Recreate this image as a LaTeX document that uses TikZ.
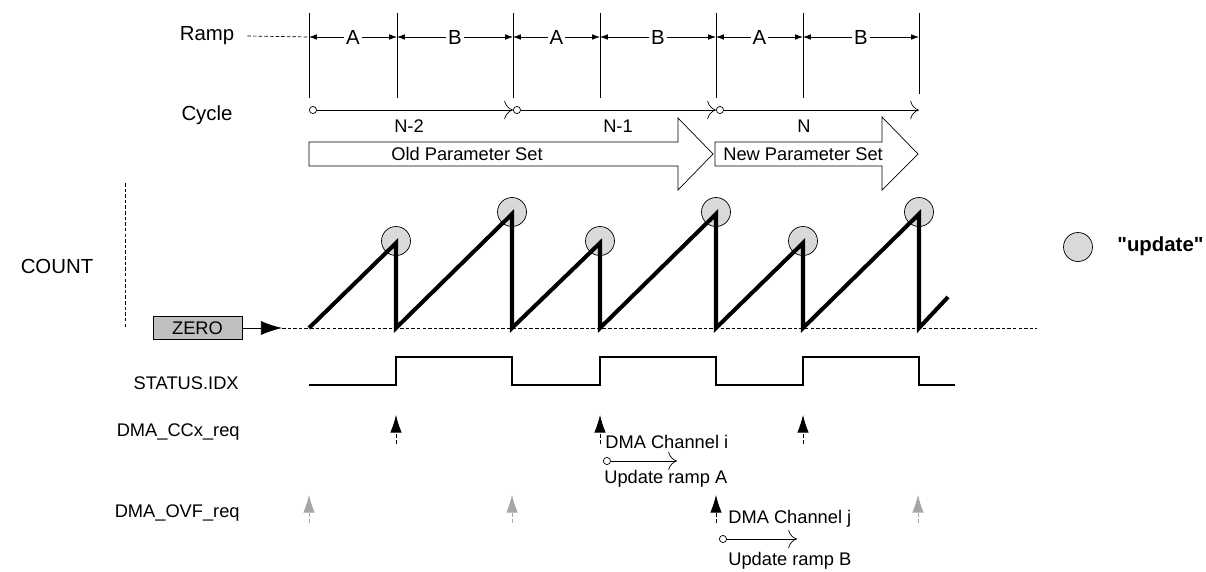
\documentclass[tikz,border=0pt]{standalone}
\usepackage{fontspec}
\setmainfont{Liberation Sans}
\newfontfamily\keyfont{Liberation Sans}[Ligatures=TeXOff]
\usetikzlibrary{arrows.meta}

\begin{document}
\begin{tikzpicture}[x=0.02cm, y=-0.02cm, >={Latex[length=4.5pt,width=3.2pt]},
  big/.style={font=\fontsize{11.6}{13}\selectfont},
  small/.style={font=\fontsize{10.4}{12}\selectfont},
  saw/.style={line width=2.3pt, line join=miter},
  sig/.style={line width=1.6pt},
  upd/.style={circle, draw, fill=gray!30, minimum size=0.58cm, inner sep=0pt},
  req/.style={dash pattern=on 2pt off 1.5pt, -{Latex[length=10pt,width=6.5pt]}},
  seg/.style={{Circle[open,length=4.5pt]}-{To[length=5pt]}},
  dots/.style={dash pattern=on 2pt off 1.2pt}]
\useasboundingbox (0,0) rectangle (1206,571);
% ramp row
\node[big] (ramp) at (207,36) {Ramp};
\draw[dots] ([xshift=4pt]ramp.east) -- (309,37);
\draw (309,13) -- (309,98);
\draw (397,13) -- (397,98);
\draw (513,13) -- (513,98);
\draw (600,13) -- (600,98);
\draw (716,13) -- (716,98);
\draw (803,13) -- (803,98);
\draw (919,13) -- (919,94);
\draw[<->] (309,37) -- node[big,fill=white,inner sep=1pt] (a1) {A} (397,37);
\draw[<->] (397,37) -- node[big,fill=white,inner sep=1pt] (b1) {B} (513,37);
\draw[<->] (513,37) -- node[big,fill=white,inner sep=1pt] (a2) {A} (600,37);
\draw[<->] (600,37) -- node[big,fill=white,inner sep=1pt] (b2) {B} (716,37);
\draw[<->] (716,37) -- node[big,fill=white,inner sep=1pt] (a3) {A} (803,37);
\draw[<->] (803,37) -- node[big,fill=white,inner sep=1pt] (b3) {B} (919,37);
% cycle row
\node[big] (cycle) at (207,115) {Cycle};
\draw[seg] (309,110) -- (513,110);
\draw[seg] (513,110) -- (716,110);
\draw[seg] (716,110) -- (919,110);
\node[small] (n2) at (409,126) {N-2};
\node[small] (n1) at (618,126) {N-1};
\node[small] (n0) at (804,126) {N};
% parameter sets
\draw (309,142) -- (678,142) -- (678,118) -- (713,154) -- (678,190) -- (678,166) -- (309,166) -- cycle;
\node[small] (oldset) at (467,154) {Old Parameter Set};
\draw (715,142) -- (882,142) -- (882,117) -- (918,154) -- (882,190) -- (882,166) -- (715,166) -- cycle;
\node[small,anchor=west,inner sep=0pt] (newset) at (723,154) {New Parameter Set};
% count
\node[big] (count) at (57,266) {COUNT};
\draw[dots] (125,183) -- (125,327);
\node[small,draw,fill=gray!50,minimum width=1.78cm,minimum height=0.46cm,inner sep=0pt] (zero) at (197.5,328) {ZERO};
\coordinate (base0) at (282,328);
\coordinate (base1) at (1037,328);
\draw[-{Latex[length=12pt,width=8pt]}] (zero.east) -- (base0);
\draw[dots] (base0) -- (base1);
% update points
\node[upd] (u1) at (396,241) {};
\node[upd] (u2) at (512,212) {};
\node[upd] (u3) at (600,241) {};
\node[upd] (u4) at (716,212) {};
\node[upd] (u5) at (803,241) {};
\node[upd] (u6) at (919,212) {};
\draw[saw] (309,328) -- (396,243) -- (396,328) -- (512,214) -- (512,328) -- (600,243) -- (600,328)
  -- (716,214) -- (716,328) -- (803,243) -- (803,328) -- (919,214) -- (919,328) -- (948,297);
\node[upd] (key) at (1078,247) {};
\node[font=\keyfont\fontsize{11.6}{13}\selectfont\bfseries,anchor=west,inner sep=0pt] (keytxt) at (1117,246) {"update"};
% status
\node[small,anchor=east,inner sep=0pt] (status) at (239,383) {STATUS.IDX};
\draw[sig] (309,385) -- (396,385) -- (396,357) -- (512,357) -- (512,385) -- (600,385) -- (600,357)
  -- (716,357) -- (716,385) -- (803,385) -- (803,357) -- (919,357) -- (919,385) -- (955,385);
% dma requests
\node[small,anchor=east,inner sep=0pt] (ccx) at (240,432) {DMA\_CCx\_req};
\draw[req] (396,444) -- (396,415);
\draw[req] (600,444) -- (600,415);
\draw[req] (803,444) -- (803,415);
\node[small,anchor=east,inner sep=0pt] (ovf) at (240,513) {DMA\_OVF\_req};
\draw[req,gray!70] (309,523) -- (309,495);
\draw[req,gray!70] (512,523) -- (512,495);
\draw[req,gray!70] (918,523) -- (918,495);
\draw[req] (716,523) -- (716,495);
% channel notes
\node[small,anchor=west,inner sep=0pt] (chi) at (605,442) {DMA Channel i};
\draw[seg] (603,461) -- (677,461);
\node[small,anchor=west,inner sep=0pt] (rampa) at (604,479) {Update ramp A};
\node[small,anchor=west,inner sep=0pt] (chj) at (728,519) {DMA Channel j};
\draw[seg] (719,539) -- (797,539);
\node[small,anchor=west,inner sep=0pt] (rampb) at (728,561) {Update ramp B};
\end{tikzpicture}
\end{document}
